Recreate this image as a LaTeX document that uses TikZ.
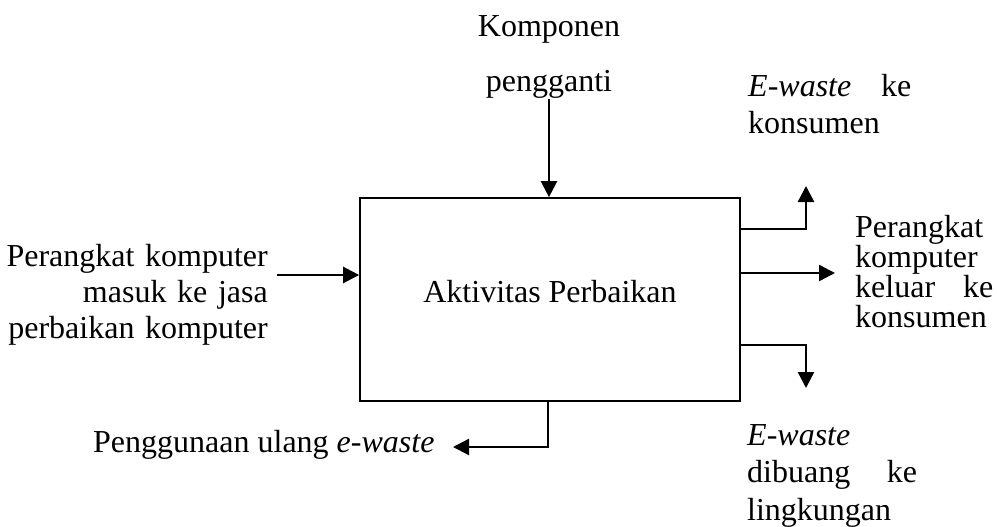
\documentclass[tikz,border=0pt]{standalone}
\usepackage{fontspec}
\setmainfont{Liberation Serif}
\usetikzlibrary{arrows.meta}

\begin{document}
\begin{tikzpicture}[x=1pt, y=-1pt,
    every node/.style={inner sep=0pt, font=\fontsize{32}{37}\selectfont},
    box/.style={draw, line width=1.7pt, minimum width=380pt, minimum height=203pt},
    lbl/.style={anchor=base west, align=left},
    arr/.style={line width=2.4pt, -{Triangle[width=16pt,length=16pt]}}]
    \useasboundingbox (0,0) rectangle (997,527);

    \node (aktivitas) [box, text height=22pt, text depth=17pt] at (550,299.5) {Aktivitas Perbaikan};
    \node (komponen) [anchor=base, text width=220pt, align=center, font=\fontsize{32}{55}\selectfont] at (549,37) {Komponen\\pengganti};
    \node (masuk) [anchor=base east, text width=262pt, align=right, font=\fontsize{32}{36}\selectfont] at (268,266) {Perangkat komputer\\masuk ke jasa\\perbaikan komputer};
    \node (ewaste) [lbl, text width=163pt] at (748,97) {\textit{E-waste}\hfill ke\\konsumen};
    \node (keluar) [lbl, text width=138pt, font=\fontsize{32}{30}\selectfont] at (855,237) {Perangkat\\komputer\\keluar\hfill ke\\konsumen};
    \node (dibuang) [lbl, text width=170pt, font=\fontsize{32}{37.5}\selectfont] at (747,445) {\textit{E-waste}\\dibuang\hfill ke\\lingkungan};
    \node (penggunaan) [anchor=base west] at (93,452) {Penggunaan ulang \textit{e-waste}};

    \coordinate (masukujung) at (277,275);
    \coordinate (naik) at (806,186);
    \coordinate (keluarujung) at (835,273);
    \coordinate (turun) at (806,388);
    \coordinate (ulang) at (453,447);

    \draw[arr] (komponen.south) -- (komponen.south |- aktivitas.north);
    \draw[arr] (masukujung) -- (masukujung -| aktivitas.west);
    \draw[arr] (aktivitas.east |- 0,229) -| (naik);
    \draw[arr] (aktivitas.east |- keluarujung) -- (keluarujung);
    \draw[arr] (aktivitas.east |- 0,345) -| (turun);
    \draw[arr] (aktivitas.south -| 548,0) |- (ulang);
\end{tikzpicture}
\end{document}
